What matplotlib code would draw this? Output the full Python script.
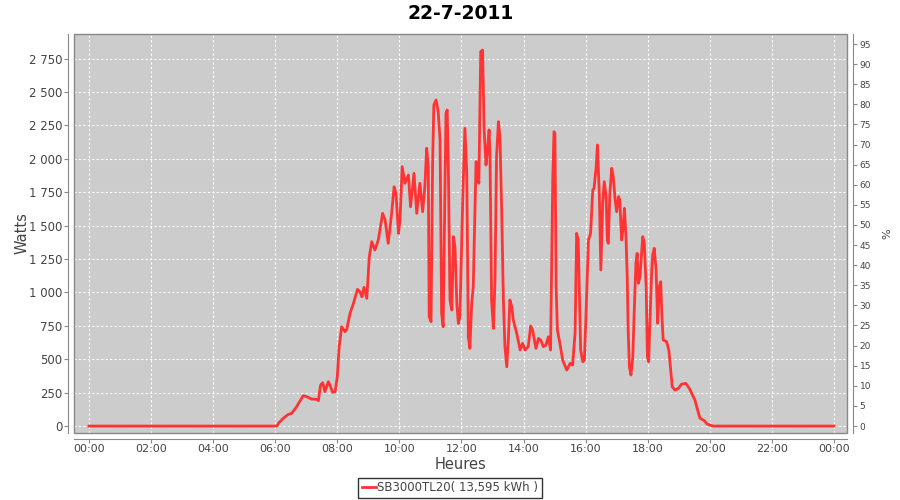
import matplotlib
matplotlib.use("Agg")
import matplotlib.pyplot as plt
from matplotlib.patches import Rectangle
from matplotlib.ticker import FuncFormatter, MultipleLocator

# data (hours, watts)
hours = [0.0, 6.05, 6.10, 6.26, 6.42, 6.53, 6.69, 6.90, 7.01, 7.17, 7.34, 7.39,
         7.46, 7.53, 7.60, 7.71, 7.76, 7.85, 7.93, 8.00, 8.06, 8.14, 8.25, 8.30,
         8.41, 8.52, 8.65, 8.73, 8.79, 8.86, 8.95, 9.03, 9.11, 9.21, 9.32, 9.46,
         9.54, 9.64, 9.75, 9.83, 9.89, 9.97, 10.02, 10.09, 10.18, 10.29, 10.36,
         10.47, 10.56, 10.66, 10.75, 10.82, 10.88, 10.93, 10.96, 11.02, 11.07,
         11.11, 11.18, 11.25, 11.31, 11.36, 11.41, 11.50, 11.54, 11.58, 11.63,
         11.69, 11.74, 11.79, 11.85, 11.90, 11.95, 12.04, 12.11, 12.17, 12.22,
         12.27, 12.33, 12.38, 12.47, 12.51, 12.56, 12.62, 12.68, 12.73, 12.79,
         12.83, 12.89, 12.92, 12.97, 13.03, 13.08, 13.13, 13.19, 13.24, 13.30,
         13.35, 13.40, 13.46, 13.51, 13.56, 13.62, 13.67, 13.78, 13.89, 13.97,
         14.05, 14.15, 14.23, 14.29, 14.40, 14.48, 14.55, 14.64, 14.72, 14.80,
         14.87, 14.94, 14.98, 15.01, 15.05, 15.09, 15.17, 15.26, 15.39, 15.50,
         15.58, 15.66, 15.71, 15.76, 15.84, 15.91, 15.96, 16.01, 16.09, 16.16,
         16.23, 16.27, 16.34, 16.38, 16.44, 16.49, 16.55, 16.60, 16.66, 16.70,
         16.73, 16.78, 16.84, 16.89, 16.95, 17.00, 17.06, 17.10, 17.16, 17.21,
         17.25, 17.30, 17.34, 17.37, 17.41, 17.46, 17.52, 17.56, 17.62, 17.66,
         17.70, 17.75, 17.81, 17.84, 17.89, 17.95, 17.99, 18.03, 18.07, 18.13,
         18.16, 18.21, 18.27, 18.32, 18.37, 18.42, 18.45, 18.48, 18.50, 18.61,
         18.68, 18.74, 18.79, 18.88, 18.99, 19.09, 19.23, 19.34, 19.52, 19.68,
         19.84, 19.91, 20.00, 20.10, 24.0]
watts = [0, 0, 20, 58, 87, 95, 145, 227, 220, 202, 200, 190,
         307, 324, 257, 332, 307, 252, 257, 369, 594, 743, 706, 719,
         844, 918, 1023, 1005, 968, 1038, 956, 1267, 1380, 1317, 1392, 1592,
         1542, 1367, 1592, 1791, 1741, 1442, 1542, 1941, 1817, 1879, 1641,
         1891, 1592, 1817, 1604, 1791, 2079, 1941, 818, 781, 1966,
         2403, 2440, 2353, 2141, 844, 743, 2341, 2365, 1891, 943,
         868, 1417, 1342, 918, 768, 818, 1692, 2228, 1891, 668,
         581, 918, 1043, 1979, 1941, 1817, 2802, 2814, 2216, 1953,
         2041, 2216, 2016, 943, 731, 1093, 2016, 2278, 2165, 1567,
         943, 594, 444, 644, 943, 893, 793, 694, 569, 619,
         569, 594, 749, 719, 581, 656, 644, 594, 606, 668,
         569, 1841, 2203, 2191, 1043, 719, 619, 494, 419, 469,
         456, 694, 1442, 1392, 569, 481, 494, 818, 1392, 1442,
         1766, 1779, 1941, 2103, 1741, 1168, 1667, 1829, 1717, 1392,
         1367, 1741, 1929, 1866, 1692, 1604, 1717, 1692, 1392, 1492,
         1629, 1417, 1118, 719, 444, 382, 519, 818, 1218, 1292,
         1068, 1118, 1317, 1417, 1367, 1043, 519, 481, 769, 1168,
         1280, 1330, 1168, 769, 1043, 1080, 868, 719, 644, 631,
         569, 419, 294, 269, 282, 314, 319, 282, 195, 60,
         37, 15, 8, 0, 0]

title = "22-7-2011"
serie = "SB3000TL20( 13,595 kWh )"
x_ticks = list(range(0, 25, 2))
x_labels = ["%02d:00" % (h % 24) for h in x_ticks]

fig = plt.figure(figsize=(9, 5), dpi=100)
ax = fig.add_axes([74 / 900, 1 - 433 / 500, 773 / 900, 399 / 500])
ax.set_facecolor("#cccccc")

ax.plot(hours, watts, color="#ff3333", lw=2, label=serie, zorder=3)

ax.set_xlim(-0.483, 24.42)
ax.set_ylim(-52, 2934)
ax.set_xticks(x_ticks)
ax.set_xticklabels(x_labels)
ax.yaxis.set_major_locator(MultipleLocator(250))
ax.yaxis.set_major_formatter(FuncFormatter(lambda v, p: "{:,}".format(int(v)).replace(",", " ")))
ax.grid(True, color="white", ls=(0, (2, 2)), lw=0.8)
ax.set_axisbelow(True)

gray = "#888888"
for s in ["top", "right"]:
    ax.spines[s].set_visible(False)
for s in ["left", "bottom"]:
    ax.spines[s].set_position(("outward", 4))
    ax.spines[s].set_color(gray)
ax.tick_params(colors=gray, labelcolor="#444444", labelsize=8.5, length=3, pad=1.5,
               direction="out")
ax.tick_params(axis="x", labelsize=8, pad=1)
ax.add_patch(Rectangle((0, 0), 1, 1, transform=ax.transAxes, fill=False,
                       edgecolor=gray, lw=1, zorder=5, clip_on=False))

ax.set_xlabel("Heures", fontsize=10.5, color="#444444")
ax.xaxis.set_label_coords(0.5, -0.06)
ax.set_ylabel("Watts", fontsize=10.5, color="#444444")
ax.yaxis.set_label_coords(-0.058, 0.5)
ax.set_title(title, fontsize=13.5, fontweight="bold", pad=11)

ax2 = ax.twinx()
ax2.set_ylim(-1.74, 97.5)
ax2.yaxis.set_major_locator(MultipleLocator(5))
for s in ["top", "left", "bottom"]:
    ax2.spines[s].set_visible(False)
ax2.spines["right"].set_position(("outward", 4))
ax2.spines["right"].set_color(gray)
ax2.tick_params(colors=gray, labelcolor="#444444", labelsize=6.5, length=3, pad=2,
                direction="out")
ax2.set_ylabel("%", fontsize=8, color="#444444", labelpad=8)

leg = fig.legend(loc="center", bbox_to_anchor=(0.5, 1 - 488 / 500), fontsize=8.5,
                 frameon=True, fancybox=False, handlelength=1.2, handletextpad=0.1,
                 borderpad=0.3, labelcolor="#444444")
leg.get_frame().set_edgecolor("black")
leg.get_frame().set_linewidth(1)

fig.savefig("out.png", dpi=100)
